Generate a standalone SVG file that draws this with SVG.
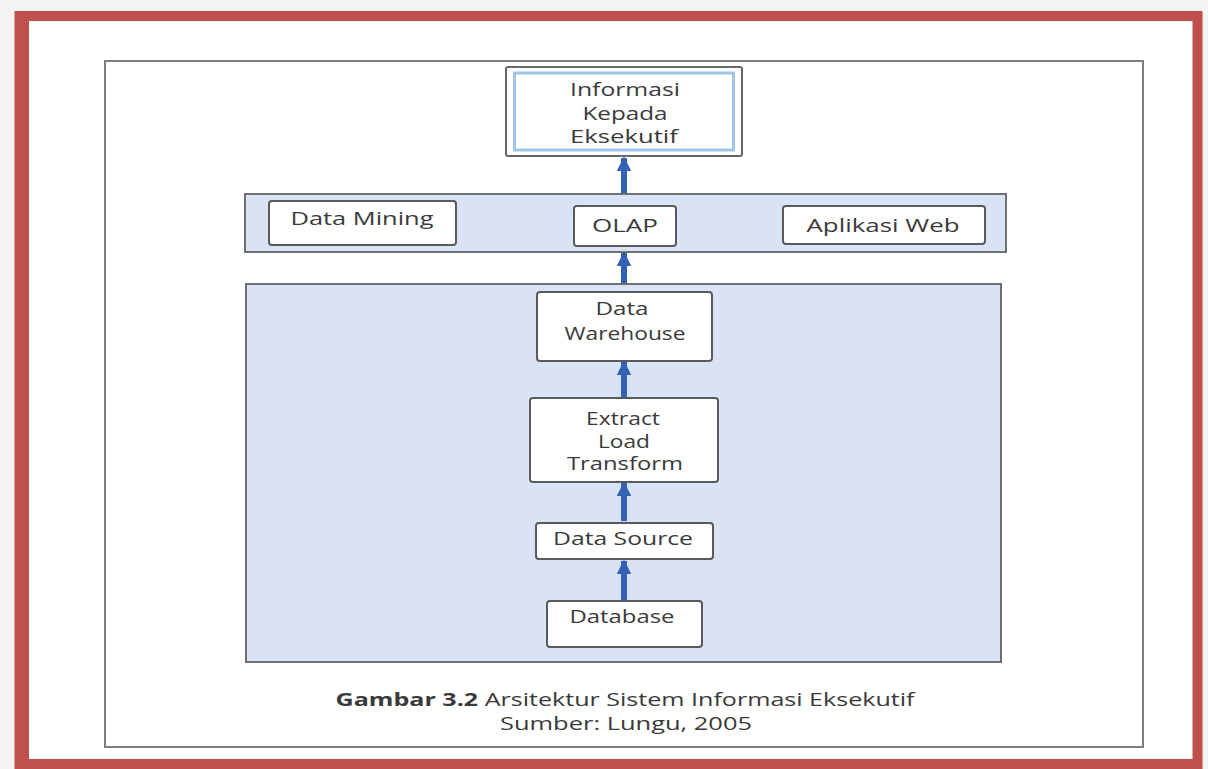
<svg xmlns="http://www.w3.org/2000/svg" width="1208" height="769" viewBox="0 0 1208 769">
<defs>
<style>
.node{fill:#ffffff;stroke:#5a5a5a;stroke-width:2}
.panel{fill:#dae3f3;stroke:#6f6f6f;stroke-width:2}
.t{font-family:"Open Sans","Liberation Sans",sans-serif;font-size:18px;fill:#3a3a3a;text-anchor:middle}
.cap{font-family:"Open Sans","Liberation Sans",sans-serif;font-size:18px;fill:#3a3a3a;text-anchor:middle}
.conn{stroke:#3362b5;stroke-width:6;fill:none}
</style>
<marker id="ah" viewBox="0 0 10 10" refX="9" refY="5" markerWidth="2.4" markerHeight="2.4" orient="auto" markerUnits="strokeWidth">
<path d="M0,0 L10,5 L0,10 z" fill="#3362b5"/>
</marker>
</defs>
<rect x="0" y="0" width="1208" height="769" fill="#f3f3f1"/>
<rect x="19.5" y="16" width="1178" height="748" fill="#ffffff" stroke="#c0504d" stroke-width="10"/>
<rect x="24" y="20" width="5" height="740" fill="#c0504d"/>
<rect x="105" y="61" width="1038" height="686" fill="#ffffff" stroke="#7f7f7f" stroke-width="2"/>

<g id="panel-middle"><rect class="panel" x="245" y="194" width="761" height="58"/></g>
<g id="panel-lower"><rect class="panel" x="246" y="284" width="755" height="378"/></g>

<g id="connectors">
<line class="conn" x1="624" y1="193" x2="624" y2="158" marker-end="url(#ah)"/>
<line class="conn" x1="624" y1="283" x2="624" y2="253" marker-end="url(#ah)"/>
<line class="conn" x1="624" y1="397" x2="624" y2="362" marker-end="url(#ah)"/>
<line class="conn" x1="624" y1="521" x2="624" y2="483" marker-end="url(#ah)"/>
<line class="conn" x1="624" y1="600" x2="624" y2="561" marker-end="url(#ah)"/>
</g>

<g id="node-informasi">
<rect x="506" y="67" width="236" height="89" rx="2" fill="#ffffff" stroke="#666" stroke-width="2"/>
<rect x="514.5" y="73" width="219" height="77" fill="#ffffff" stroke="#9fc4e8" stroke-width="3"/>
<text class="t" x="625" y="96" textLength="110" lengthAdjust="spacingAndGlyphs">Informasi</text>
<text class="t" x="625" y="120" textLength="85" lengthAdjust="spacingAndGlyphs">Kepada</text>
<text class="t" x="624" y="143" textLength="108" lengthAdjust="spacingAndGlyphs">Eksekutif</text>
</g>
<g id="node-datamining">
<rect class="node" x="269" y="201" width="187" height="44" rx="3"/>
<text class="t" x="362" y="225" textLength="143" lengthAdjust="spacingAndGlyphs">Data Mining</text>
</g>
<g id="node-olap">
<rect class="node" x="574" y="206" width="102" height="40" rx="3"/>
<text class="t" x="625" y="232" textLength="66" lengthAdjust="spacingAndGlyphs">OLAP</text>
</g>
<g id="node-aplikasiweb">
<rect class="node" x="783" y="206" width="202" height="38" rx="3"/>
<text class="t" x="883" y="232" textLength="153" lengthAdjust="spacingAndGlyphs">Aplikasi Web</text>
</g>
<g id="node-datawarehouse">
<rect class="node" x="537" y="292" width="175" height="69" rx="3"/>
<text class="t" x="622" y="315" textLength="53" lengthAdjust="spacingAndGlyphs">Data</text>
<text class="t" x="625" y="340" textLength="121" lengthAdjust="spacingAndGlyphs">Warehouse</text>
</g>
<g id="node-etl">
<rect class="node" x="530" y="398" width="188" height="84" rx="3"/>
<text class="t" x="623" y="425" textLength="74" lengthAdjust="spacingAndGlyphs">Extract</text>
<text class="t" x="624" y="448" textLength="52" lengthAdjust="spacingAndGlyphs">Load</text>
<text class="t" x="625" y="470" textLength="116" lengthAdjust="spacingAndGlyphs">Transform</text>
</g>
<g id="node-datasource">
<rect class="node" x="536" y="523" width="177" height="36" rx="3"/>
<text class="t" x="623" y="545" textLength="140" lengthAdjust="spacingAndGlyphs">Data Source</text>
</g>
<g id="node-database">
<rect class="node" x="547" y="601" width="155" height="46" rx="3"/>
<text class="t" x="622" y="623" textLength="105" lengthAdjust="spacingAndGlyphs">Database</text>
</g>

<g id="caption">
<text class="cap" x="625" y="706" textLength="579" lengthAdjust="spacingAndGlyphs"><tspan font-weight="bold">Gambar 3.2</tspan> Arsitektur Sistem Informasi Eksekutif</text>
<text class="cap" x="626" y="730" textLength="252" lengthAdjust="spacingAndGlyphs">Sumber: Lungu, 2005</text>
</g>
</svg>
